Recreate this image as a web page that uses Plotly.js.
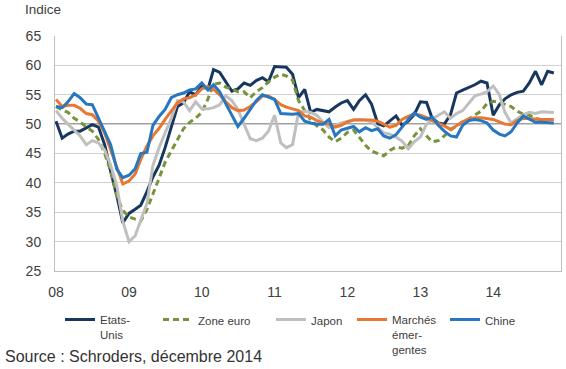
<!DOCTYPE html>
<html>
<head>
<meta charset="utf-8">
<script src="https://cdn.plot.ly/plotly-3.0.1.min.js"></script>
<style>
  html, body { margin: 0; padding: 0; background: #ffffff; }
  #chart { width: 566px; height: 369px; }
</style>
</head>
<body>
<div id="chart"></div>
<script>
// Monthly PMI-style index, Jan 2008 – Nov 2014
const startYear = 2008;
const yearLabels = ['08', '09', '10', '11', '12', '13', '14'];

const etatsUnis = [50.5, 47.6, 48.3, 48.8, 48.8, 49.3, 49.9, 49.5, 46.5, 42,
  37.8, 33.2, 34.8, 35.5, 36.2, 38.5, 41, 43, 46, 49.5,
  53, 53.6, 55.5, 55, 56.5, 56, 59.3, 58.8, 57.2, 55.6,
  56, 57, 56.6, 57.4, 57.9, 57.2, 59.8,
  59.8, 59.7, 58.5, 54.5, 55.9, 52, 52.5, 52.3, 52.1, 52.9,
  53.6, 54, 52.5, 54, 55, 53.4, 50.1, 49.7, 50.6, 51.4,
  49.8, 50.5, 51.6, 53.8, 53.7, 51, 50.2, 50, 51.6, 55.3,
  55.8, 56.2, 56.7, 57.3, 57, 51.5, 53.3, 54.3, 55, 55.4,
  55.6, 57, 59, 56.7, 59, 58.7];

const zoneEuro = [53, 52.4, 52, 51, 50.4, 49.5, 48.8, 47.4, 45, 42,
  37.8, 35.3, 34.2, 33.9, 33.5, 35.5, 38, 40.8, 43.5, 45.5,
  47.3, 49.2, 50.3, 51, 52, 54.3, 56.8, 57, 56.3, 56,
  55.5, 55.5, 54.5, 55.5, 56.2, 57.2, 58,
  58.5, 58.2, 57.5, 54, 52.2, 50.7, 49.7, 49, 47.8, 47,
  47.6, 48.6, 49, 47.8, 46.4, 45.4, 45, 44.6, 45.5, 46.1,
  45.9, 46.3, 48, 49.2, 48, 47, 47.2, 48, 49, 49.7,
  50.4, 50.9, 51.5, 52.2, 53.5, 53.9, 53.7, 53.4, 53, 52.2,
  51.7, 51.5, 51, 50.7, 50.8, 50.8];

const japon = [52.3, 51, 50, 49, 48, 46.5, 47.2, 46.8, 45.6, 43,
  39.5, 33.5, 30, 31, 33.5, 36.5, 43, 46, 48.5, 51,
  54, 53.8, 52.3, 53.8, 52.6, 52.6, 52.8, 53.3, 54.8, 54,
  52.5, 50, 47.5, 47.2, 47.6, 48.8, 51.5,
  46.8, 46, 46.5, 52, 52.2, 52, 51.5, 50.3, 49.4, 49.7,
  50.2, 50.5, 50.7, 50.8, 50.7, 50.4, 49.4, 48.5, 48.3, 47.8,
  47.1, 45.8, 47, 47.8, 50, 50.8, 51.5, 52.1, 51, 51.8,
  52.3, 53.5, 54.8, 55.1, 55.5, 56.5, 55, 52, 50.2, 50.9,
  51.6, 52, 51.8, 52.1, 52.1, 52];

const marchesEmergents = [54.2, 53, 53.2, 53.2, 52.7, 51.8, 51.6, 50.5, 48.5, 45.5,
  42.5, 39.8, 40.3, 41.5, 44, 46.3, 48, 49.3, 50.8, 52.2,
  53.6, 54.3, 54.5, 55, 56, 56.4, 55.9, 55, 53.8, 52.8,
  52.3, 52.4, 53, 53.8, 54.8, 54.8, 54.2,
  53.3, 52.9, 52.6, 52.3, 51.4, 51.2, 50.6, 50.2, 50, 49.5,
  49.8, 50.4, 50.7, 50.7, 50.6, 50.7, 50.5, 50, 49.5, 49.8,
  50.8, 51.3, 51.7, 51.5, 51.1, 50.6, 50.2, 49.7, 49.1, 49.8,
  50.4, 50.9, 51.1, 51.1, 50.9, 50.8, 50.4, 50, 49.9, 50.6,
  51, 50.9, 50.8, 50.8, 50.8, 50.8];

const chine = [53, 52.8, 53.8, 55.2, 54.5, 53.4, 53.3, 51, 48.5, 46.5,
  42.3, 40.9, 41.3, 42.4, 45, 45.2, 49.8, 51.3, 52.5, 54.5,
  55, 55.3, 55.8, 56, 57, 55.8, 56.7, 55.5, 53.5, 51.5,
  49.6, 51, 52.5, 54, 55, 54.6, 54.2,
  51.8, 51.7, 51.7, 51.8, 50.5, 50.2, 50, 50, 50.8, 48,
  49, 49.3, 49.6, 48.7, 49.4, 48.9, 49.2, 48, 47.6, 48.2,
  49.5, 50.8, 51.9, 51.2, 50.8, 51.2, 49.8, 48.8, 48, 47.8,
  49.8, 50.6, 50.8, 50.6, 50.2, 49, 48.3, 48, 48.7, 50.2,
  51.4, 50.8, 50.3, 50.3, 50.2, 50.2];

// month dates (categories)
const months = [];
for (let k = 0; k < etatsUnis.length; k++) {
  const y = startYear + Math.floor(k / 12);
  const m = (k % 12) + 1;
  months.push(y + '-' + String(m).padStart(2, '0') + '-01');
}
const yearTicks = yearLabels.map((l, k) => (startYear + k) + '-01-01');

const FONT = 'Liberation Sans, Arial, sans-serif';
const TXT = '#404040';

function line(name, y, color, legendId, dash) {
  return {
    type: 'scatter', mode: 'lines', name: name, x: months, y: y,
    line: { color: color, width: 3, dash: dash || 'solid' },
    legend: legendId, hoverinfo: 'x+y'
  };
}

const traces = [
  line('Etats-<br>Unis', etatsUnis, '#17375E', 'legend'),
  line('Zone euro', zoneEuro, '#77933C', 'legend2', '6px,4px'),
  line('Japon', japon, '#BFBFBF', 'legend3'),
  line('Marchés<br>émer-<br>gentes', marchesEmergents, '#E9772F', 'legend4'),
  line('Chine', chine, '#2677C1', 'legend5')
];

function leg(x) {
  return {
    x: x, y: -0.147, xanchor: 'left', yanchor: 'top', orientation: 'h',
    bgcolor: 'rgba(0,0,0,0)', borderwidth: 0, valign: 'top',
    font: { family: FONT, size: 11.5, color: TXT }, itemwidth: 30
  };
}

const layout = {
  width: 566, height: 369,
  margin: { l: 55, r: 5, t: 36, b: 96 },
  paper_bgcolor: '#ffffff', plot_bgcolor: '#ffffff',
  font: { family: FONT, color: TXT },
  showlegend: true,
  xaxis: {
    type: 'date',
    range: ['2007-12-27', '2014-12-07'],
    tickvals: yearTicks, ticktext: yearLabels,
    showgrid: false, zeroline: false,
    showline: true, linecolor: '#BFBFBF', linewidth: 1,
    ticks: '', ticklabelstandoff: 8,
    tickfont: { family: FONT, size: 14, color: TXT },
    fixedrange: true
  },
  yaxis: {
    range: [25, 65], dtick: 5, tick0: 25,
    showgrid: true, gridcolor: '#D0D0D0', gridwidth: 1,
    zeroline: false,
    showline: true, mirror: true, linecolor: '#BFBFBF', linewidth: 1,
    ticks: '', ticklabelstandoff: 10,
    tickfont: { family: FONT, size: 14, color: TXT },
    fixedrange: true
  },
  shapes: [{
    type: 'line', xref: 'paper', yref: 'y', x0: 0, x1: 1, y0: 50, y1: 50,
    line: { color: '#000000', width: 1 }, layer: 'between'
  }],
  legend: leg(0.0099),
  legend2: leg(0.2036),
  legend3: leg(0.4269),
  legend4: leg(0.5870),
  legend5: leg(0.7708),
  annotations: [
    {
      text: 'Indice', xref: 'paper', yref: 'paper', x: -0.0632, y: 1.114,
      xanchor: 'left', yanchor: 'middle', showarrow: false,
      font: { family: FONT, size: 13.5, color: TXT }
    },
    {
      text: 'Source : Schroders, décembre 2014', xref: 'paper', yref: 'paper',
      x: -0.1028, y: -0.363, xanchor: 'left', yanchor: 'middle', showarrow: false,
      font: { family: FONT, size: 16, color: '#333333' }
    }
  ]
};

Plotly.newPlot('chart', traces, layout, { displayModeBar: false, staticPlot: true });
</script>
</body>
</html>
